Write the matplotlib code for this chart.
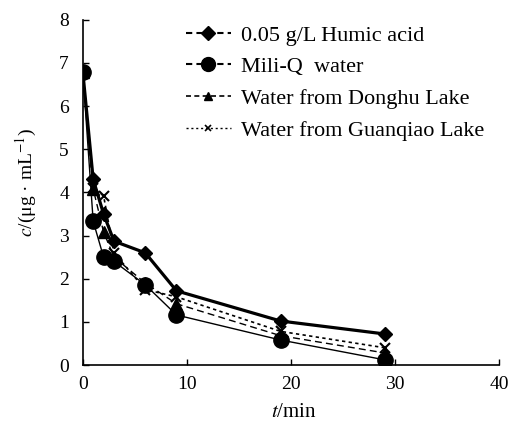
import matplotlib
matplotlib.use("Agg")
import matplotlib.pyplot as plt
from matplotlib.lines import Line2D

# Sampling times (min) and concentrations (ug/mL).
t_min = [0, 1, 2, 3, 6, 9, 19, 29]
humic = [6.8, 4.3, 3.5, 2.87, 2.6, 1.72, 1.02, 0.72]
mili_q = [6.8, 3.33, 2.5, 2.4, 1.86, 1.16, 0.58, 0.12]
donghu = [6.8, 4.08, 3.08, 2.5, 1.9, 1.42, 0.68, 0.28]
guanqiao = [6.8, 4.1, 3.92, 2.6, 1.75, 1.58, 0.78, 0.4]

labels = ["0.05 g/L Humic acid", "Mili-Q  water",
          "Water from Donghu Lake", "Water from Guanqiao Lake"]

plt.rcParams["font.family"] = ["Liberation Serif", "DejaVu Serif"]
plt.rcParams["mathtext.fontset"] = "stix"

fig = plt.figure(figsize=(5.11, 4.22), dpi=100)
ax = fig.add_axes([0.162, 0.135, 0.815, 0.818])

ax.plot(t_min, humic, color="black", lw=2.3, marker="D", ms=7)
ax.plot(t_min, mili_q, color="black", lw=1.0, marker="o", ms=11)
ax.plot(t_min, donghu, color="black", lw=1.0, ls=(0, (5, 3)), marker="^", ms=8)
ax.plot(t_min, guanqiao, color="black", lw=1.2, ls=(0, (2, 2)), marker="x",
        ms=7, mew=1.5)

ax.set_xlim(0, 40)
ax.set_ylim(0, 8)
ax.set_xticks([0, 10, 20, 30, 40])
ax.set_yticks(range(0, 9))
ax.tick_params(direction="in", length=4, labelsize=14, width=1)
ax.tick_params(axis="x", pad=8)
ax.tick_params(axis="y", pad=10)
ax.spines["top"].set_visible(False)
ax.spines["right"].set_visible(False)
ax.spines["left"].set_linewidth(1.2)
ax.spines["bottom"].set_linewidth(1.2)

ax.set_xlabel(r"$t$/min", fontsize=15)
ax.set_ylabel(r"$c$/(μg · mL$^{-1}$)", fontsize=14)
ax.xaxis.set_label_coords(0.507, -0.11)
ax.yaxis.set_label_coords(-0.105, 0.53)

# legend handles are all drawn dashed, as in the original key
handles = [
    Line2D([], [], color="black", lw=1.5, ls=(0, (3, 2)), marker="D", ms=7),
    Line2D([], [], color="black", lw=1.5, ls=(0, (3, 2)), marker="o", ms=10),
    Line2D([], [], color="black", lw=1.2, ls=(0, (3, 2)), marker="^", ms=6),
    Line2D([], [], color="black", lw=1.0, ls=(0, (1.5, 2)), marker="x", ms=5,
           mew=1.2),
]
ax.legend(handles, labels, loc="upper left", bbox_to_anchor=(0.2, 1.043),
          frameon=False, fontsize=16, handlelength=2.0, handletextpad=0.45,
          labelspacing=0.5)

fig.savefig("out.png", dpi=100)
